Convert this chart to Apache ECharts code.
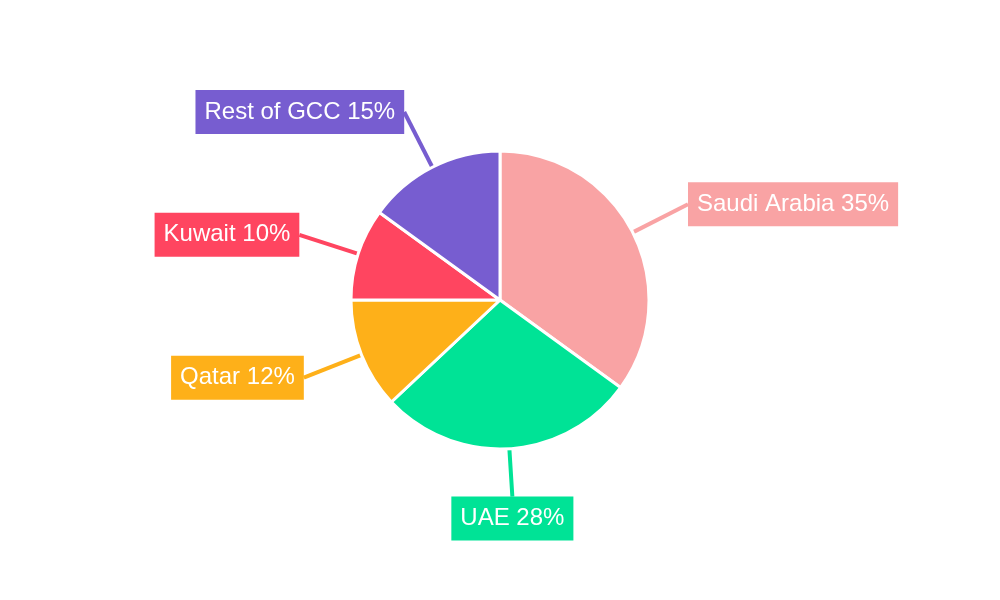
<!DOCTYPE html>
<html>
<head>
<meta charset="utf-8">
<script src="https://cdn.jsdelivr.net/npm/echarts@6/dist/echarts.min.js"></script>
<style>html,body{margin:0;padding:0;background:#fff}#c{width:1000px;height:600px}</style>
</head>
<body>
<div id="c"></div>
<script>
const categories = ['Saudi Arabia', 'UAE', 'Qatar', 'Kuwait', 'Rest of GCC'];
const values = [35, 28, 12, 10, 15];
const colors = ['#F9A3A4', '#00E396', '#FEB019', '#FF4560', '#775DD0'];

const chart = echarts.init(document.getElementById('c'));
chart.setOption({
  animation: false,
  color: colors,
  series: [{
    type: 'pie',
    center: [500, 300],
    radius: 149,
    startAngle: 90,
    clockwise: true,
    avoidLabelOverlap: false,
    itemStyle: { borderColor: '#fff', borderWidth: 3 },
    data: categories.map((n, i) => ({ name: n, value: values[i] })),
    label: {
      show: true,
      position: 'outside',
      formatter: '{b} {c}%',
      color: '#fff',
      fontSize: 24,
      fontFamily: 'Liberation Sans, Arial, sans-serif',
      backgroundColor: 'inherit',
      padding: [10, 9],
      distanceToLabelLine: 0
    },
    labelLine: { show: true, length: 62, length2: 0, lineStyle: { width: 4 } },
    labelLayout: function (params) {
      const p = params.labelLinePoints;
      if (!p) return;
      const dx = p[1][0] - p[0][0], dy = p[1][1] - p[0][1];
      const len = Math.hypot(dx, dy);
      const ux = dx / len, uy = dy / len;
      if (Math.abs(ux) < 0.3) {
        return {
          x: p[0][0] + ux * 48,
          y: p[0][1] + uy * 48,
          align: 'center',
          verticalAlign: uy > 0 ? 'top' : 'bottom'
        };
      }
    }
  }]
});
</script>
</body>
</html>
